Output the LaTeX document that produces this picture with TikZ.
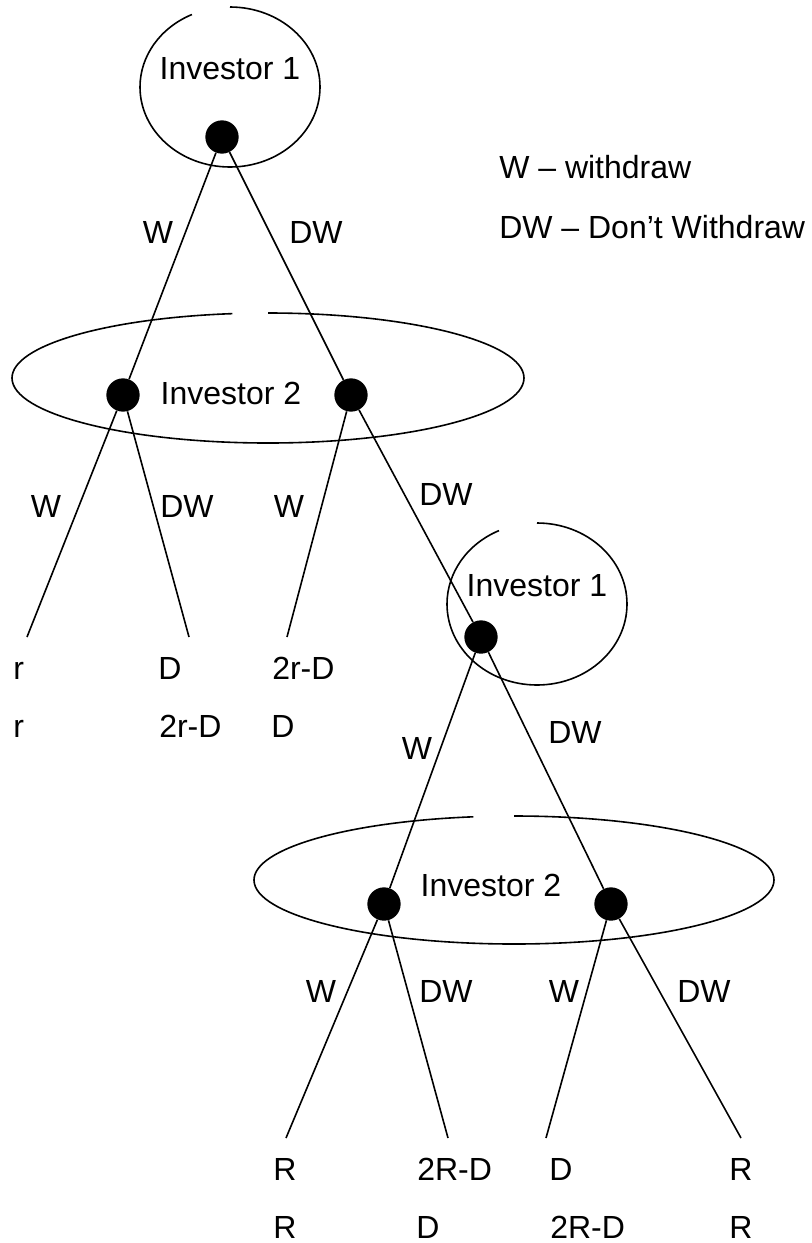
\documentclass[tikz,border=0pt]{standalone}
\usepackage{fontspec}
\setmainfont{Liberation Sans}
\usepackage{tikz}

\begin{document}
\begin{tikzpicture}[
    x=0.75pt,y=-0.75pt,
    font=\fontsize{24}{28}\selectfont,
    dot/.style={circle,fill=black,inner sep=0pt,minimum size=25pt},
    branch/.style={line width=1.2pt},
    infoset/.style={line width=1.2pt},
    lbl/.style={inner sep=0pt},
    payoff/.style={anchor=base west,inner sep=0pt}
  ]
    \useasboundingbox (0,0) rectangle (812,1243);

    % information sets
    \draw[infoset] (230,87) ++(-90:90 and 80) arc[start angle=-90,end angle=245,x radius=90,y radius=80];
    \draw[infoset] (268,378) ++(-90:256 and 65) arc[start angle=-90,end angle=262,x radius=256,y radius=65];
    \draw[infoset] (537,604) ++(-90:90 and 81) arc[start angle=-90,end angle=245,x radius=90,y radius=81];
    \draw[infoset] (514,880) ++(-90:260 and 64) arc[start angle=-90,end angle=261,x radius=260,y radius=64];

    \node[lbl] (inv1a) at (230,69) {Investor 1};
    \node[lbl] (inv2a) at (231,393) {Investor 2};
    \node[lbl] (inv1b) at (537,586) {Investor 1};
    \node[lbl] (inv2b) at (491,885) {Investor 2};

    % decision nodes
    \node[dot] (root) at (222,137) {};
    \node[dot] (aw) at (123,395) {};
    \node[dot] (adw) at (351,395) {};
    \node[dot] (bnode) at (481,637) {};
    \node[dot] (bw) at (384,904) {};
    \node[dot] (bdw) at (611,904) {};

    % leaf ends
    \coordinate (aww) at (27,637);
    \coordinate (awdw) at (189,637);
    \coordinate (adww) at (287,637);
    \coordinate (bww) at (286,1138);
    \coordinate (bwdw) at (448,1138);
    \coordinate (bdww) at (546,1138);
    \coordinate (bdwdw) at (741,1138);

    \draw[branch] (root) -- (aw);
    \draw[branch] (root) -- (adw);
    \draw[branch] (aw) -- (aww);
    \draw[branch] (aw) -- (awdw);
    \draw[branch] (adw) -- (adww);
    \draw[branch] (adw) -- (bnode);
    \draw[branch] (bnode) -- (bw);
    \draw[branch] (bnode) -- (bdw);
    \draw[branch] (bw) -- (bww);
    \draw[branch] (bw) -- (bwdw);
    \draw[branch] (bdw) -- (bdww);
    \draw[branch] (bdw) -- (bdwdw);

    % action labels
    \node[lbl] (l1) at (158,232) {W};
    \node[lbl] (l2) at (316,232) {DW};
    \node[lbl] (l3) at (46,506) {W};
    \node[lbl] (l4) at (187,506) {DW};
    \node[lbl] (l5) at (289,506) {W};
    \node[lbl] (l6) at (446,494) {DW};
    \node[lbl] (l7) at (417,748) {W};
    \node[lbl] (l8) at (575,732) {DW};
    \node[lbl] (l9) at (321,991) {W};
    \node[lbl] (l10) at (446,991) {DW};
    \node[lbl] (l11) at (564,991) {W};
    \node[lbl] (l12) at (704,991) {DW};

    % payoffs
    \node[payoff] (p1) at (13,679) {r};
    \node[payoff] (p2) at (13,737) {r};
    \node[payoff] (p3) at (158,679) {D};
    \node[payoff] (p4) at (159,737) {2r-D};
    \node[payoff] (p5) at (272,679) {2r-D};
    \node[payoff] (p6) at (271,737) {D};
    \node[payoff] (p7) at (273,1180) {R};
    \node[payoff] (p8) at (273,1238) {R};
    \node[payoff] (p9) at (417,1180) {2R-D};
    \node[payoff] (p10) at (416,1238) {D};
    \node[payoff] (p11) at (549,1180) {D};
    \node[payoff] (p12) at (550,1238) {2R-D};
    \node[payoff] (p13) at (729,1180) {R};
    \node[payoff] (p14) at (729,1238) {R};

    % legend
    \node[payoff] (key1) at (499,178) {W – withdraw};
    \node[payoff] (key2) at (499,238) {DW – Don’t Withdraw};
  \end{tikzpicture}
\end{document}
